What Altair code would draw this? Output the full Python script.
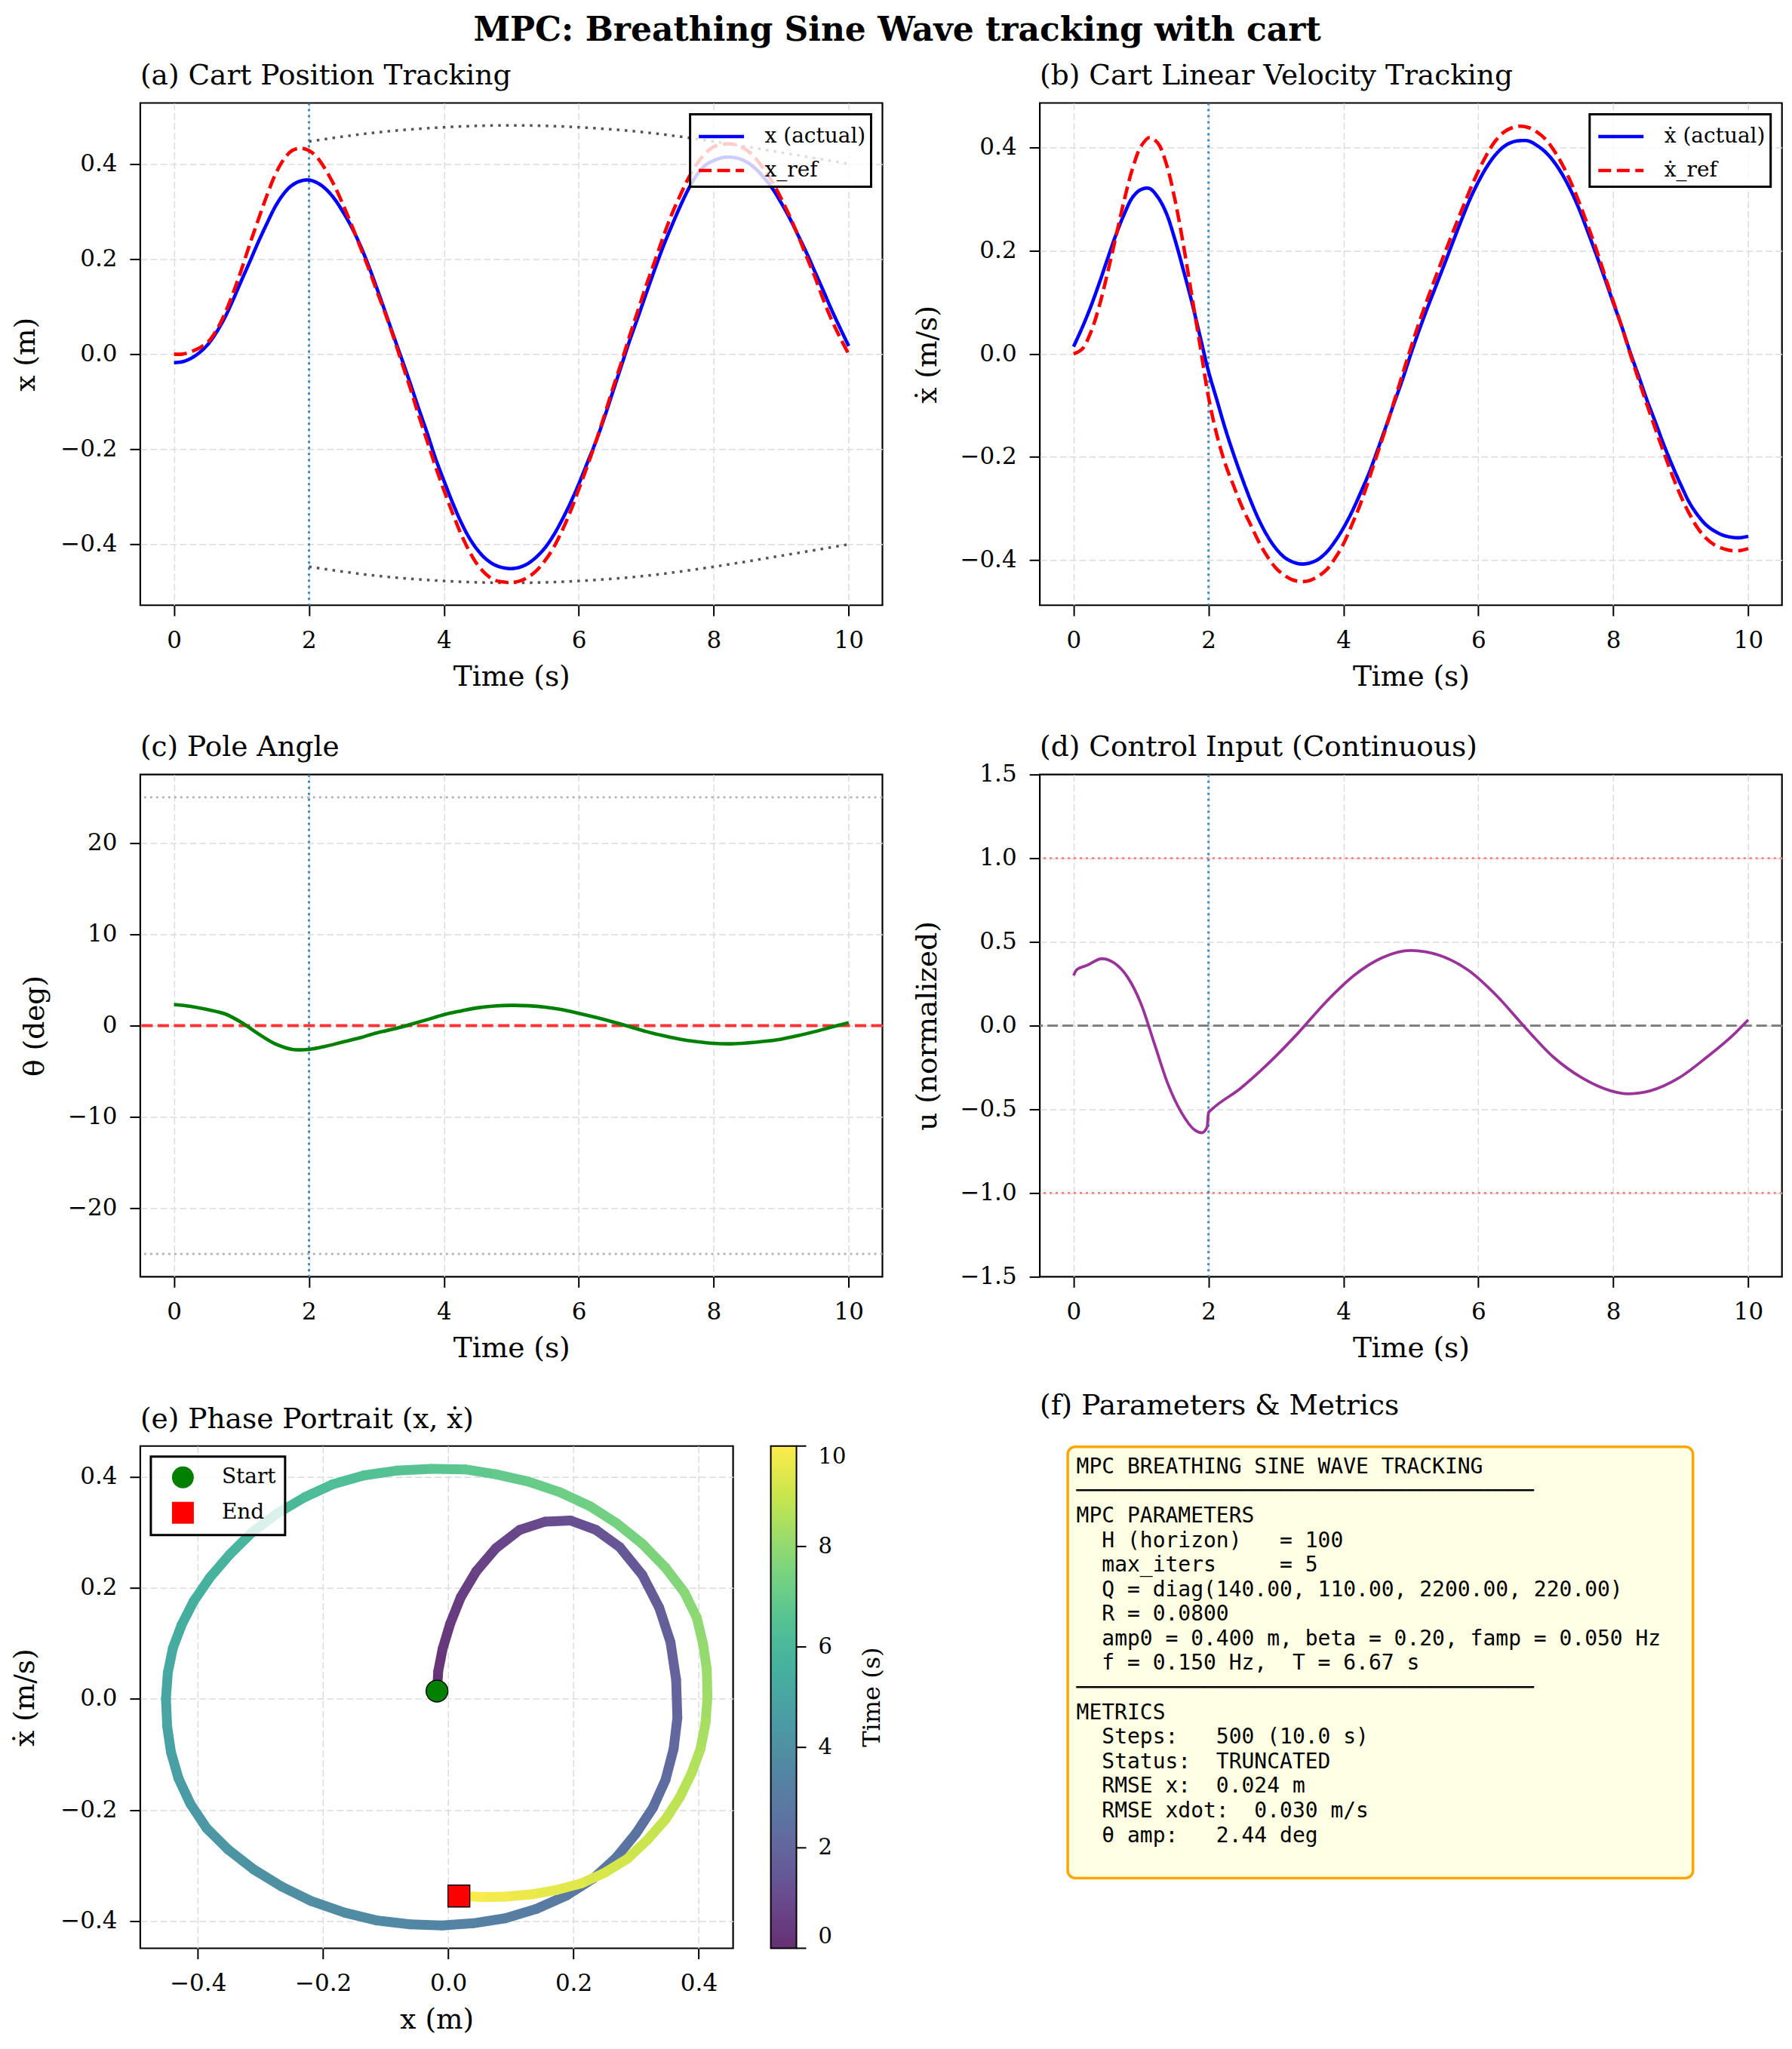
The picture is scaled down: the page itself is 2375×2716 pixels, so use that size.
import altair as alt
import pandas as pd

SERIF = "DejaVu Serif"
MONO = "DejaVu Sans Mono"

# ---------------- data ----------------
T8 = [0.0, 0.125, 0.25, 0.375, 0.5, 0.625, 0.75, 0.875, 1.0, 1.125, 1.25, 1.375, 1.5, 1.625,
      1.75, 1.875, 2.0, 2.125, 2.25, 2.375, 2.5, 2.625, 2.75, 2.875, 3.0, 3.125, 3.25, 3.375,
      3.5, 3.625, 3.75, 3.875, 4.0, 4.125, 4.25, 4.375, 4.5, 4.625, 4.75, 4.875, 5.0, 5.125,
      5.25, 5.375, 5.5, 5.625, 5.75, 5.875, 6.0, 6.125, 6.25, 6.375, 6.5, 6.625, 6.75, 6.875,
      7.0, 7.125, 7.25, 7.375, 7.5, 7.625, 7.75, 7.875, 8.0, 8.125, 8.25, 8.375, 8.5, 8.625,
      8.75, 8.875, 9.0, 9.125, 9.25, 9.375, 9.5, 9.625, 9.75, 9.875, 10.0]

X_ACT = [-0.018, -0.016, -0.009, 0.003, 0.020, 0.045, 0.076, 0.114, 0.155, 0.195, 0.236,
         0.274, 0.310, 0.337, 0.355, 0.364, 0.366, 0.360, 0.347, 0.327, 0.300, 0.269, 0.232,
         0.189, 0.141, 0.091, 0.040, -0.010, -0.061, -0.114, -0.165, -0.219, -0.266, -0.311,
         -0.352, -0.386, -0.412, -0.431, -0.443, -0.449, -0.451, -0.448, -0.440, -0.426, -0.407,
         -0.381, -0.349, -0.313, -0.273, -0.229, -0.185, -0.135, -0.081, -0.027, 0.027, 0.077,
         0.128, 0.178, 0.226, 0.269, 0.310, 0.347, 0.377, 0.397, 0.407, 0.413, 0.414, 0.411,
         0.403, 0.389, 0.370, 0.347, 0.318, 0.286, 0.250, 0.213, 0.173, 0.133, 0.092, 0.054, 0.017]

X_REF = [0.0, 0.0, 0.005, 0.013, 0.025, 0.049, 0.084, 0.128, 0.178, 0.232, 0.283, 0.333,
         0.377, 0.409, 0.428, 0.433, 0.428, 0.413, 0.387, 0.355, 0.316, 0.274, 0.229, 0.184,
         0.135, 0.088, 0.037, -0.017, -0.071, -0.128, -0.182, -0.236, -0.286, -0.333, -0.377,
         -0.414, -0.443, -0.463, -0.475, -0.479, -0.480, -0.477, -0.469, -0.455, -0.434, -0.407,
         -0.372, -0.331, -0.284, -0.236, -0.185, -0.131, -0.074, -0.020, 0.037, 0.091, 0.145,
         0.195, 0.246, 0.293, 0.333, 0.370, 0.400, 0.422, 0.436, 0.441, 0.442, 0.438, 0.428,
         0.411, 0.387, 0.360, 0.327, 0.290, 0.249, 0.205, 0.162, 0.114, 0.071, 0.034, 0.0]

XDOT_ACT = [0.014, 0.05, 0.09, 0.135, 0.183, 0.23, 0.271, 0.304, 0.319, 0.321, 0.304, 0.273,
            0.223, 0.164, 0.102, 0.034, -0.034, -0.09, -0.146, -0.196, -0.242, -0.285, -0.323,
            -0.354, -0.378, -0.395, -0.404, -0.408, -0.406, -0.399, -0.385, -0.364, -0.338,
            -0.307, -0.271, -0.233, -0.189, -0.143, -0.096, -0.05, 0.0, 0.047, 0.091, 0.133,
            0.175, 0.218, 0.26, 0.3, 0.334, 0.363, 0.386, 0.402, 0.411, 0.414, 0.413, 0.404,
            0.391, 0.372, 0.347, 0.316, 0.279, 0.236, 0.192, 0.146, 0.099, 0.053, 0.003, -0.043,
            -0.09, -0.133, -0.177, -0.217, -0.254, -0.288, -0.313, -0.332, -0.344, -0.352,
            -0.356, -0.357, -0.354]

XDOT_REF = [0.0, 0.009, 0.04, 0.09, 0.155, 0.226, 0.298, 0.36, 0.403, 0.42, 0.409, 0.369,
            0.301, 0.214, 0.115, 0.016, -0.084, -0.158, -0.214, -0.257, -0.298, -0.332, -0.366,
            -0.394, -0.416, -0.43, -0.439, -0.442, -0.44, -0.432, -0.419, -0.397, -0.369,
            -0.332, -0.292, -0.245, -0.195, -0.146, -0.093, -0.04, 0.012, 0.062, 0.108, 0.152,
            0.195, 0.237, 0.278, 0.318, 0.355, 0.387, 0.413, 0.43, 0.439, 0.442, 0.439, 0.43,
            0.416, 0.394, 0.366, 0.332, 0.292, 0.248, 0.202, 0.152, 0.102, 0.053, 0.0, -0.05,
            -0.099, -0.146, -0.192, -0.236, -0.276, -0.31, -0.338, -0.358, -0.371, -0.378,
            -0.382, -0.382, -0.378]

T4 = [0.0, 0.25, 0.5, 0.75, 1.0, 1.25, 1.5, 1.75, 2.0, 2.25, 2.5, 2.75, 3.0, 3.25,
      3.5, 3.75, 4.0, 4.25, 4.5, 4.75, 5.0, 5.25, 5.5, 5.75, 6.0, 6.25, 6.5, 6.75,
      7.0, 7.25, 7.5, 7.75, 8.0, 8.25, 8.5, 8.75, 9.0, 9.25, 9.5, 9.75, 10.0]

THETA = [2.31, 2.1, 1.75, 1.3, 0.35, -0.9, -2.0, -2.6, -2.6, -2.25,
         -1.8, -1.35, -0.8, -0.38, 0.12, 0.65, 1.2, 1.6, 1.95, 2.15,
         2.22, 2.18, 2.03, 1.75, 1.34, 0.9, 0.42, -0.1, -0.65, -1.1,
         -1.48, -1.75, -1.94, -1.99, -1.89, -1.72, -1.48, -1.1, -0.65, -0.15, 0.32]

U_T = [0.0, 0.05, 0.2, 0.42, 0.6, 0.8, 1.0, 1.2, 1.4, 1.6, 1.8, 1.9, 1.98, 2.0, 2.05,
       2.47, 2.89, 3.32, 3.74, 4.16, 4.58, 5.0, 5.43, 5.85, 6.27, 6.69, 7.11, 7.54,
       7.96, 8.21, 8.55, 8.97, 9.39, 9.81, 10.0]
U_VAL = [0.30, 0.335, 0.36, 0.40, 0.375, 0.29, 0.13, -0.11, -0.35, -0.52, -0.625, -0.64,
         -0.605, -0.52, -0.50, -0.376, -0.225, -0.048, 0.141, 0.301, 0.407, 0.449, 0.419,
         0.331, 0.179, -0.01, -0.187, -0.313, -0.389, -0.407, -0.389, -0.313, -0.187,
         -0.043, 0.035]

ENV_T = [2.0, 3.0, 4.0, 5.0, 6.0, 7.0, 8.0, 9.0, 10.0]
ENV_UP = [0.447, 0.466, 0.477, 0.481, 0.477, 0.466, 0.447, 0.424, 0.40]
ENV_LO = [-0.447, -0.466, -0.477, -0.481, -0.477, -0.466, -0.447, -0.424, -0.40]

T_MARK = [2.0]
THETA_LIMITS = [-25.0, 25.0]
THETA_ZERO = [0.0]
U_LIMITS = [-1.0, 1.0]
U_ZERO = [0.0]

START_X, START_Y = [-0.018], [0.014]
END_X, END_Y = [0.017], [-0.355]

SER_A = ["x (actual)", "x_ref"]
SER_B = ["ẋ (actual)", "ẋ_ref"]

TIME_TICKS = [0, 2, 4, 6, 8, 10]
POS_TICKS = [-0.4, -0.2, 0.0, 0.2, 0.4]
THETA_TICKS = [-20, -10, 0, 10, 20]
U_TICKS = [-1.5, -1.0, -0.5, 0.0, 0.5, 1.0, 1.5]

INFO_LINES = [
    "MPC BREATHING SINE WAVE TRACKING",
    "─" * 36,
    "MPC PARAMETERS",
    "  H (horizon)   = 100",
    "  max_iters     = 5",
    "  Q = diag(140.00, 110.00, 2200.00, 220.00)",
    "  R = 0.0800",
    "  amp0 = 0.400 m, beta = 0.20, famp = 0.050 Hz",
    "  f = 0.150 Hz,  T = 6.67 s",
    "─" * 36,
    "METRICS",
    "  Steps:   500 (10.0 s)",
    "  Status:  TRUNCATED",
    "  RMSE x:  0.024 m",
    "  RMSE xdot:  0.030 m/s",
    "  θ amp:   2.44 deg",
]

VIRIDIS = ["#440154", "#482475", "#414487", "#355f8d", "#2a788e", "#21918c",
           "#22a884", "#44bf70", "#7ad151", "#bddf26", "#fde725"]


def fade(hexc, a=0.82):
    r, g, b = int(hexc[1:3], 16), int(hexc[3:5], 16), int(hexc[5:7], 16)
    f = lambda c: int(round(a * c + (1 - a) * 255))
    return "#%02x%02x%02x" % (f(r), f(g), f(b))


VIRIDIS_FADED = [fade(c) for c in VIRIDIS]

W, H = 984, 666
WE = 786
EXT = 107
SUB_OFF = -14.5


def title(txt, offset=SUB_OFF):
    return alt.TitleParams(txt, anchor="start", frame="group", offset=offset, baseline="alphabetic",
                           font=SERIF, fontSize=37.5, fontWeight="normal", color="black")


def time_x():
    return alt.X("t:Q", scale=alt.Scale(domain=[-0.5, 10.5], nice=False, zero=False),
                 axis=alt.Axis(values=TIME_TICKS, format="d", title="Time (s)"))


def y_enc(domain, values, fmt, ttl, tpad, field="v", **kw):
    return alt.Y(f"{field}:Q", scale=alt.Scale(domain=domain, nice=False, zero=False),
                 axis=alt.Axis(values=values, format=fmt, title=ttl, titlePadding=tpad,
                               minExtent=EXT, maxExtent=EXT, **kw))


def line_legend():
    return alt.Legend(title=None, orient="top-right", offset=15, padding=7,
                      strokeColor="black", fillColor="rgba(255,255,255,0.8)", cornerRadius=0,
                      symbolType="M-1.5,0L1.5,0", symbolSize=1600, symbolStrokeWidth=4.6,
                      symbolOffset=12, labelOffset=35, rowPadding=8,
                      labelFont=SERIF, labelFontSize=28, labelColor="black")


def vmark(yenc):
    return alt.Chart(pd.DataFrame({"t": T_MARK})).mark_rule(
        color="#1f77b4", strokeWidth=3, strokeDash=[3, 5], opacity=0.85
    ).encode(x=time_x())


# ---------------- (a) position ----------------
ya = lambda: y_enc([-0.528, 0.528], POS_TICKS, ".1f", "x (m)", 25)
df_a = pd.DataFrame({"t": T8 + T8, "v": X_ACT + X_REF,
                     "s": [SER_A[0]] * len(T8) + [SER_A[1]] * len(T8)})
df_env = pd.DataFrame({"t": ENV_T + ENV_T, "v": ENV_UP + ENV_LO,
                       "side": ["up"] * len(ENV_T) + ["lo"] * len(ENV_T)})
env = alt.Chart(df_env).mark_line(color="#555555", strokeWidth=3.5, strokeDash=[3.5, 7],
                                  interpolate="monotone").encode(x=time_x(), y=ya(), detail="side:N")
lines_a = alt.Chart(df_a).mark_line(strokeWidth=4.6, interpolate="catmull-rom").encode(
    x=time_x(), y=ya(),
    color=alt.Color("s:N", scale=alt.Scale(domain=SER_A, range=["#0000ff", "#ff0000"]), legend=line_legend()),
    strokeDash=alt.StrokeDash("s:N", scale=alt.Scale(domain=SER_A, range=[[1, 0], [17, 7.5]]), legend=line_legend()),
)
pa = alt.layer(env, vmark(ya), lines_a).properties(width=W, height=H, title=title("(a) Cart Position Tracking"))

# ---------------- (b) velocity ----------------
yb = lambda: y_enc([-0.488, 0.487], POS_TICKS, ".1f", "ẋ (m/s)", 23)
df_b = pd.DataFrame({"t": T8 + T8, "v": XDOT_ACT + XDOT_REF,
                     "s": [SER_B[0]] * len(T8) + [SER_B[1]] * len(T8)})
lines_b = alt.Chart(df_b).mark_line(strokeWidth=4.6, interpolate="catmull-rom").encode(
    x=time_x(), y=yb(),
    color=alt.Color("s:N", scale=alt.Scale(domain=SER_B, range=["#0000ff", "#ff0000"]), legend=line_legend()),
    strokeDash=alt.StrokeDash("s:N", scale=alt.Scale(domain=SER_B, range=[[1, 0], [17, 7.5]]), legend=line_legend()),
)
pb = alt.layer(vmark(yb), lines_b).properties(width=W, height=H, title=title("(b) Cart Linear Velocity Tracking"))

# ---------------- (c) pole angle ----------------
yc = lambda: y_enc([-27.5, 27.5], THETA_TICKS, "d", "θ (deg)", 13)
lim_c = alt.Chart(pd.DataFrame({"v": THETA_LIMITS})).mark_rule(
    color="#b3b3b3", strokeWidth=2.6, strokeDash=[3, 5]).encode(y=yc())
zero_c = alt.Chart(pd.DataFrame({"v": THETA_ZERO})).mark_rule(
    color="#ff3333", strokeWidth=4, strokeDash=[15, 6.5]).encode(y=yc())
theta_line = alt.Chart(pd.DataFrame({"t": T4, "v": THETA})).mark_line(
    color="#008000", strokeWidth=4.6, interpolate="catmull-rom").encode(x=time_x(), y=yc())
pc = alt.layer(lim_c, vmark(yc), zero_c, theta_line).properties(width=W, height=H, title=title("(c) Pole Angle"))

# ---------------- (d) control input ----------------
GRID_D = {"condition": {"test": "abs(datum.value) > 1.4", "value": 0}, "value": 1}
yd = lambda: y_enc([-1.5, 1.5], U_TICKS, ".1f", "u (normalized)", 23, gridOpacity=GRID_D)
lim_d = alt.Chart(pd.DataFrame({"v": U_LIMITS})).mark_rule(
    color="#ff7f7f", strokeWidth=2.8, strokeDash=[3, 5]).encode(y=yd())
zero_d = alt.Chart(pd.DataFrame({"v": U_ZERO})).mark_rule(
    color="#808080", strokeWidth=3, strokeDash=[14, 6]).encode(y=yd())
u_line = alt.Chart(pd.DataFrame({"t": U_T, "v": U_VAL})).mark_line(
    color="#993399", strokeWidth=3.8, interpolate="monotone").encode(x=time_x(), y=yd())
pd_ = alt.layer(lim_d, zero_d, vmark(yd), u_line).properties(
    width=W, height=H, title=title("(d) Control Input (Continuous)", offset=SUB_OFF - 14))

# ---------------- (e) phase portrait ----------------
ex = lambda f="x": alt.X(f"{f}:Q", scale=alt.Scale(domain=[-0.492, 0.455], nice=False, zero=False),
                         axis=alt.Axis(values=POS_TICKS, format=".1f", title="x (m)"))
ey = lambda f="y": alt.Y(f"{f}:Q", scale=alt.Scale(domain=[-0.449, 0.455], nice=False, zero=False),
                         axis=alt.Axis(values=POS_TICKS, format=".1f", title="ẋ (m/s)", titlePadding=26,
                                       minExtent=EXT, maxExtent=EXT))
seg = pd.DataFrame({"x": X_ACT[:-1], "y": XDOT_ACT[:-1], "x2": X_ACT[1:], "y2": XDOT_ACT[1:],
                    "tm": [(a + b) / 2 for a, b in zip(T8[:-1], T8[1:])]})
path = alt.Chart(seg).mark_rule(strokeWidth=13, strokeCap="round").encode(
    x=ex(), y=ey(), x2="x2:Q", y2="y2:Q",
    color=alt.Color("tm:Q", scale=alt.Scale(domain=[0, 10], range=VIRIDIS_FADED),
                    legend=alt.Legend(title=None, orient="right", offset=50, type="gradient",
                                      direction="vertical", gradientLength=666, gradientThickness=34,
                                      gradientStrokeColor="black", gradientStrokeWidth=2,
                                      values=TIME_TICKS, format="d", labelFont=SERIF, labelFontSize=29,
                                      labelOffset=29, labelColor="black")),
)
cbar_ticks = alt.Chart(pd.DataFrame({"tv": TIME_TICKS})).mark_rule(color="black", strokeWidth=2).encode(
    y=alt.Y("tv:Q", scale=alt.Scale(domain=[0, 10], range=[H, 0]), axis=None),
    x=alt.value(WE + 84), x2=alt.value(WE + 97),
)
cbar_title = alt.Chart(alt.Data(values=[{}])).mark_text(
    text="Time (s)", font=SERIF, fontSize=32, angle=270, align="center", baseline="middle", color="black"
).encode(x=alt.value(WE + 184), y=alt.value(H / 2))
LEG_E = alt.Legend(title=None, orient="top-left", offset=14, padding=12, strokeColor="black",
                   fillColor="rgba(255,255,255,0.8)", cornerRadius=0, symbolSize=841,
                   symbolStrokeColor="black", symbolStrokeWidth=1.3, symbolOffset=15,
                   labelOffset=36, rowPadding=12, labelFont=SERIF, labelFontSize=28, labelColor="black")
df_m = pd.DataFrame({"x": START_X + END_X, "y": START_Y + END_Y, "k": ["Start", "End"]})
marks_e = alt.Chart(df_m).mark_point(filled=True, size=841, stroke="black", strokeWidth=1.3, opacity=1).encode(
    x=ex(), y=ey(),
    fill=alt.Fill("k:N", scale=alt.Scale(domain=["Start", "End"], range=["#008000", "#ff0000"]), legend=LEG_E),
    shape=alt.Shape("k:N", scale=alt.Scale(domain=["Start", "End"], range=["circle", "square"]), legend=LEG_E),
)
pe_main = alt.layer(path, marks_e, cbar_title)
pe = alt.layer(pe_main, cbar_ticks).resolve_scale(y="independent").properties(
    width=WE, height=H, title=title("(e) Phase Portrait (x, ẋ)"))

# ---------------- (f) text box ----------------
CHAR_W = 0.602 * 28
info_df = pd.DataFrame({
    "i": list(range(len(INFO_LINES))),
    "ind": [len(s) - len(s.lstrip(" ")) for s in INFO_LINES],
    "txt": [s.lstrip(" ").replace(" ", "\u00a0") for s in INFO_LINES],
})
box = alt.Chart(alt.Data(values=[{}])).mark_rect(
    fill="#ffffe3", stroke="#ffa500", strokeWidth=3.5, cornerRadius=10
).encode(x=alt.value(37), x2=alt.value(866), y=alt.value(1), y2=alt.value(573))
txt = alt.Chart(info_df).mark_text(
    font=MONO, fontSize=28, align="left", baseline="alphabetic", color="black"
).encode(
    x=alt.X("ind:Q", scale=alt.Scale(domain=[0, 2], range=[48.5, 48.5 + 2 * CHAR_W]), axis=None),
    y=alt.Y("i:Q", scale=alt.Scale(domain=[0, 15], range=[36, 36 + 15 * 32.6]), axis=None),
    text="txt:N",
)
pf = alt.layer(box, txt).properties(width=W, height=H, title=title("(f) Parameters & Metrics", offset=4),
                                    view=alt.ViewBackground(stroke="transparent"))

chart = alt.concat(
    pa, pb, pc, pd_, pe, pf, columns=2, bounds="flush",
    spacing={"row": 224.5, "column": 208.7},
    title=alt.TitleParams("MPC: Breathing Sine Wave tracking with cart", anchor="middle",
                          font=SERIF, fontSize=44, fontWeight="bold", color="black",
                          baseline="alphabetic", offset=-17),
).resolve_scale(
    color="independent", strokeDash="independent", shape="independent", fill="independent"
).resolve_legend(
    color="independent", strokeDash="independent", shape="independent", fill="independent"
).properties(
    padding={"left": 5, "top": 10, "right": 2, "bottom": 0},
    background="white",
).configure_view(
    stroke="black", strokeWidth=2.2
).configure_axis(
    domain=False, ticks=True, tickColor="black", tickWidth=2, tickSize=14,
    labelFont=SERIF, labelFontSize=31, labelColor="black", labelPadding=18,
    labelFlush=False, labelOverlap=False, labelBound=False,
    titleFont=SERIF, titleFontSize=37.5, titleFontWeight="normal", titleColor="black",
    grid=True, gridColor="#dcdcdc", gridDash=[9, 4], gridWidth=1.5,
).configure_axisY(
    labelPadding=17
).configure_axisX(
    titlePadding=14
).configure_legend(
    strokeWidth=3
)

chart.save("out.html", embed_options={"renderer": "svg", "actions": False})
